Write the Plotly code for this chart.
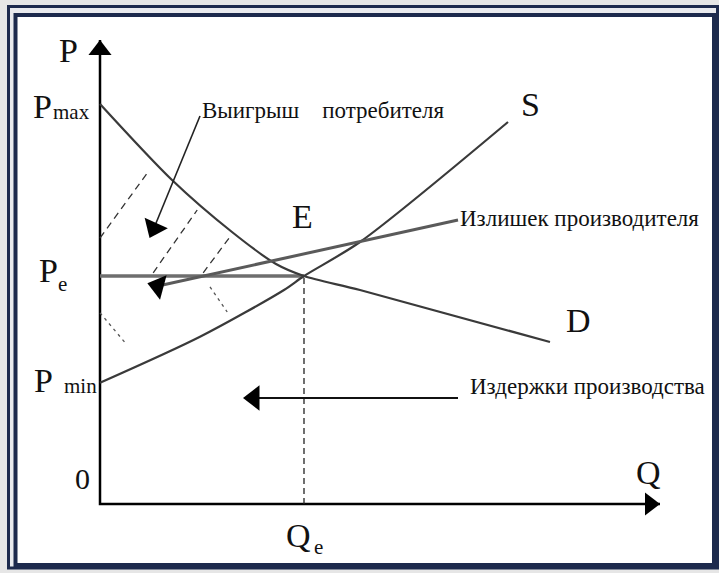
import plotly.graph_objects as go

# scale: 1 unit on either axis = 40 px on the 719x573 page
demand_q = [0, 1.8, 3.3, 4.4, 5.1, 6.5, 11.25]
demand_p = [10.0, 8.1, 6.8, 6.0, 5.7, 5.35, 4.05]
supply_q = [0, 2.5, 4.6, 5.1, 6.5, 10.2]
supply_p = [3.03, 4.18, 5.35, 5.7, 6.55, 9.55]

p_max, p_e, p_min = 10.0, 5.7, 3.03
q_e = 5.1
p_top, q_end = 11.6, 14.0

# leader lines: (q_start, p_start, q_tip, p_tip)
consumer_leader = [2.5, 9.7, 1.35, 6.9]
producer_leader = [8.95, 7.1, 1.45, 5.45]
cost_leader = [8.95, 2.65, 3.85, 2.65]

# hatch lines of the surplus areas
hatch_q = [[0, 1.2], [1.33, 2.43], [2.58, 3.25]]
hatch_p = [[6.65, 8.3], [5.78, 7.35], [5.78, 6.68]]
dots_q = [[0, 0.63], [2.75, 3.18]]
dots_p = [[4.78, 4.03], [5.43, 4.8]]

W, H = 719, 573
NAVY = '#1d2a4d'
SERIF = 'Liberation Serif'

fig = go.Figure()

# axes with arrows
fig.add_trace(go.Scatter(x=[0, 0, q_end], y=[p_top, 0, 0], mode='lines',
                         line=dict(color='black', width=2.5)))
fig.add_trace(go.Scatter(x=[0, q_end - 0.25], y=[p_top - 0.25, 0], mode='markers',
                         marker=dict(symbol='triangle-up', size=20, color='black',
                                     angle=[0, 90])))

# Pe level and Qe drop
fig.add_trace(go.Scatter(x=[0, q_e], y=[p_e, p_e], mode='lines',
                         line=dict(color='#6e6e6e', width=3.5)))
fig.add_trace(go.Scatter(x=[q_e, q_e], y=[0, p_e], mode='lines',
                         line=dict(color='#222', width=1.3, dash='6px,4px')))

# hatching
for xs, ys in zip(hatch_q, hatch_p):
    fig.add_trace(go.Scatter(x=xs, y=ys, mode='lines',
                             line=dict(color='#333', width=1.3, dash='7px,5px')))
for xs, ys in zip(dots_q, dots_p):
    fig.add_trace(go.Scatter(x=xs, y=ys, mode='lines',
                             line=dict(color='#555', width=1.3, dash='3px,4px')))

# demand and supply
fig.add_trace(go.Scatter(x=demand_q, y=demand_p, mode='lines',
                         line=dict(color='#3a3a3a', width=2.2, shape='spline', smoothing=0.8)))
fig.add_trace(go.Scatter(x=supply_q, y=supply_p, mode='lines',
                         line=dict(color='#3a3a3a', width=2.2, shape='spline', smoothing=0.8)))

# annotation leaders
for (q0, p0, q1, p1), col, w, ang in [(consumer_leader, '#222', 1.6, 204),
                                      (producer_leader, '#5a5a5a', 3, 285),
                                      (cost_leader, '#111', 2.2, 270)]:
    fig.add_trace(go.Scatter(x=[q0, q1], y=[p0, p1], mode='lines',
                             line=dict(color=col, width=w)))
    fig.add_trace(go.Scatter(x=[q1], y=[p1], mode='markers',
                             marker=dict(symbol='triangle-up', size=22, color='black',
                                         angle=ang)))

big = dict(family=SERIF, size=34, color='#111')
sub = dict(family=SERIF, size=21, color='#111')
small = dict(family=SERIF, size=23, color='#111')


def label(text, q, p, font, xa='center', ya='middle'):
    fig.add_annotation(x=q, y=p, text=text, showarrow=False, font=font,
                       xanchor=xa, yanchor=ya)


label('P', -0.8, 11.35, big)
label('P', -1.45, 9.95, big)
label('max', -0.72, 9.8, sub)
label('P', -1.3, 5.85, big)
label('e', -0.95, 5.5, sub)
label('P', -1.42, 3.1, big)
label('min', -0.5, 2.95, sub)
label('0', -0.45, 0.65, dict(family=SERIF, size=30, color='#111'))
label('Q', 13.7, 0.8, big)
label('Q', 4.95, -0.78, big)
label('e', 5.47, -1.08, sub)
label('S', 10.75, 10.0, big)
label('D', 11.95, 4.6, big)
label('E', 5.05, 7.2, big)
label('Выигрыш\u00a0\u00a0\u00a0\u00a0потребителя', 2.5, 9.85, small, xa='left')
label('Излишек производителя', 8.95, 7.15, small, xa='left')
label('Издержки производства', 9.2, 2.95, small, xa='left')

# frame
fig.add_shape(type='rect', xref='paper', yref='paper', x0=8.5 / W, x1=717.5 / W,
              y0=1 - 568 / H, y1=1 - 6.5 / H, line=dict(color=NAVY, width=3),
              fillcolor='#e9eaee', layer='below')
fig.add_shape(type='rect', xref='paper', yref='paper', x0=15.5 / W, x1=714 / W,
              y0=1 - 565 / H, y1=1 - 15 / H, line=dict(color=NAVY, width=4),
              fillcolor='white', layer='below')

fig.update_xaxes(range=[-2.5, 15.475], visible=False)
fig.update_yaxes(range=[-1.725, 12.6], visible=False)
fig.update_layout(width=W, height=H, autosize=False, showlegend=False,
                  hovermode=False,
                  margin=dict(l=0, r=0, t=0, b=0),
                  paper_bgcolor='#e6e6e6', plot_bgcolor='rgba(0,0,0,0)')

fig.write_html("out.html", config={'displayModeBar': False},
               post_script="document.body.style.margin='0';")
